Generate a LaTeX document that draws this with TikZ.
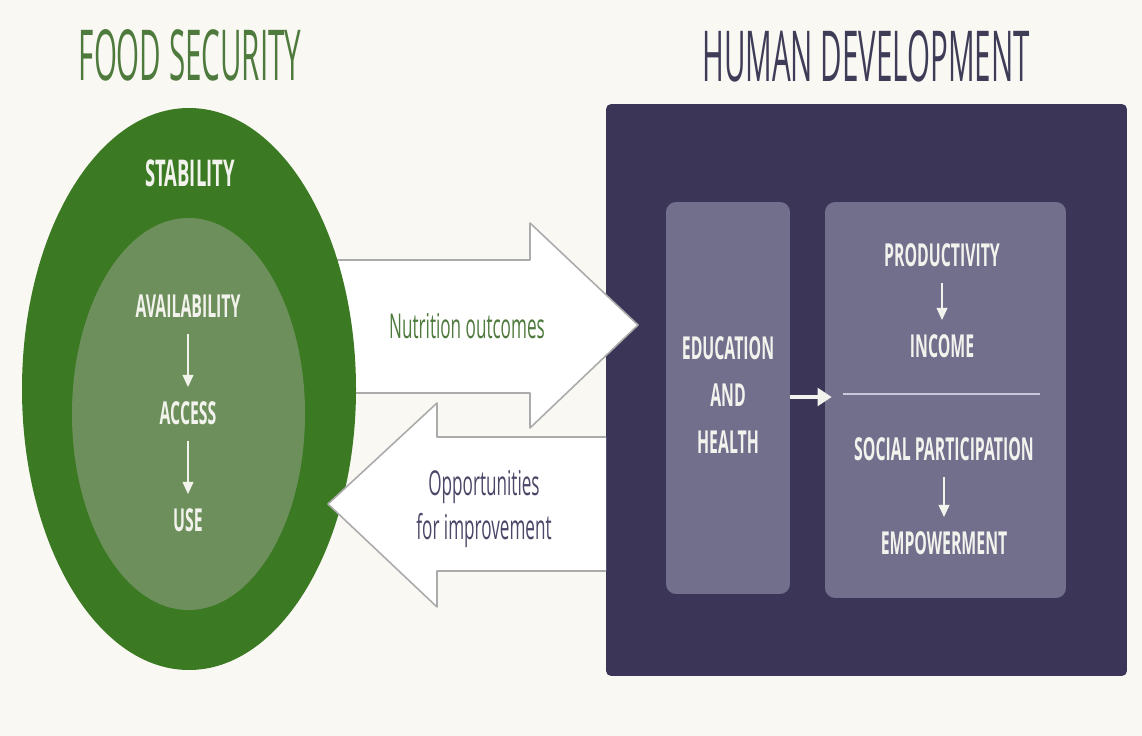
\documentclass[tikz,border=0pt]{standalone}
\usepackage{fontspec}
\setmainfont{Open Sans}
\newfontfamily\titlefont{Open Sans}[FakeStretch=0.42]
\newfontfamily\capsfont{Open Sans}[FakeStretch=0.5]
\usepackage{tikz}
\usetikzlibrary{positioning}
\usetikzlibrary{arrows.meta}
\usepackage{xcolor}

\definecolor{bgcol}{HTML}{F9F8F3}
\definecolor{fsgreen}{HTML}{3B7A23}
\definecolor{fslight}{HTML}{6D8F5B}
\definecolor{fstext}{HTML}{4F7A3D}
\definecolor{hdtext}{HTML}{3F3C58}
\definecolor{hddark}{HTML}{3B3657}
\definecolor{hdbox}{HTML}{726F8D}
\definecolor{hdline}{HTML}{C9C7DA}
\definecolor{arrowgray}{HTML}{ABABAB}
\definecolor{labtext}{HTML}{F3F3EE}
\definecolor{opptext}{HTML}{4A4768}

\begin{document}
\begin{tikzpicture}[x=0.02cm, y=-0.02cm,
  title/.style={font=\titlefont\fontsize{40}{44}\selectfont},
  caps/.style={text=labtext, font=\capsfont\fontsize{18}{26.6}\selectfont\bfseries, align=center},
  flowtext/.style={font=\capsfont\fontsize{19.5}{25}\selectfont, align=center},
  flow/.style={labtext, line width=1.3pt, -{Triangle[width=6pt,length=7pt]}},
  panel/.style={fill=hdbox, rounded corners=0.2cm, inner sep=0pt},
  bigarrow/.style={draw=arrowgray, fill=white, line width=0.9pt, line join=round}]

  % background
  \fill[bgcol] (0,0) rectangle (1142,736);

  % human development panel
  \node (hdpanel) [fill=hddark, rounded corners=0.1cm, inner sep=0pt,
    minimum width=10.42cm, minimum height=11.44cm] at (866.5,390) {};
  \node (edubox) [panel, minimum width=2.48cm, minimum height=7.84cm] at (728,398) {};
  \node (outbox) [panel, minimum width=4.82cm, minimum height=7.92cm] at (945.5,400) {};

  % nutrition arrow (behind the circle)
  \draw[bigarrow] (300,260) -- (530,260) -- (530,223) -- (638,325)
    -- (530,428) -- (530,393) -- (300,393) -- cycle;

  % food security circle
  \fill[fsgreen] (189,389) ellipse [x radius=167, y radius=281];
  \fill[fslight] (188.5,414) ellipse [x radius=116.5, y radius=196];

  % opportunities arrow (on top of the circle)
  \path[fill=white] (606,437) -- (437,437) -- (437,403) -- (328,504)
    -- (437,607) -- (437,571) -- (606,571) -- cycle;
  \draw[draw=arrowgray, line width=0.9pt, line join=round] (606,437) -- (437,437)
    -- (437,403) -- (328,504) -- (437,607) -- (437,571) -- (606,571);

  % titles
  \node (fstitle) [title, text=fstext] at (190,55) {FOOD SECURITY};
  \node (hdtitle) [title, text=hdtext] at (866,56) {HUMAN DEVELOPMENT};

  % food security labels
  \node (stab) [caps, font=\capsfont\fontsize{21}{24}\selectfont\bfseries] at (190,173) {STABILITY};
  \node (avail) [caps] at (188,306) {AVAILABILITY};
  \node (access) [caps] at (188,413) {ACCESS};
  \node (use) [caps] at (188,520) {USE};
  \draw[flow, shorten <=0.2cm, shorten >=0.16cm] (avail) -- (access);
  \draw[flow, shorten <=0.2cm, shorten >=0.16cm] (access) -- (use);

  % arrow texts
  \node (nutri) [flowtext, text=fstext] at (467,326) {Nutrition outcomes};
  \node (opp) [flowtext, text=opptext] at (484,509) {Opportunities\\for improvement};

  % human development labels
  \node (edu) [caps] at (728,395) {EDUCATION\\AND\\HEALTH};
  \node (prod) [caps] at (942,255) {PRODUCTIVITY};
  \node (income) [caps] at (942,346) {INCOME};
  \node (social) [caps] at (944,449) {SOCIAL PARTICIPATION};
  \node (empow) [caps] at (944,543) {EMPOWERMENT};
  \draw[flow, shorten <=0.2cm, shorten >=0.16cm] (prod) -- (income);
  \draw[flow, shorten <=0.2cm, shorten >=0.16cm] (social) -- (empow);
  \draw[hdline, line width=1.7pt] (843,394) -- (1040,394);

  \draw[labtext, line width=2.6pt, -{Triangle[width=10pt,length=8pt]}, shorten >=-0.14cm]
    (edubox.east |- 0,397) -- (outbox.west |- 0,397);
\end{tikzpicture}
\end{document}
